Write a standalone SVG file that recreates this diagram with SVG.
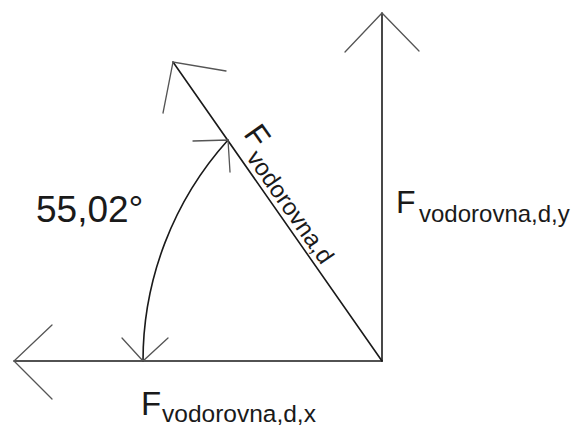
<svg xmlns="http://www.w3.org/2000/svg" width="580" height="428" viewBox="0 0 580 428">
<style>
.main{stroke:#1a1a1a;stroke-width:1.6;fill:none;stroke-linecap:round}
.head{stroke:#555;stroke-width:1.3;fill:none;stroke-linecap:round}
text{font-family:"Liberation Sans",Arial,sans-serif;fill:#1a1a1a}
.big{font-size:32px}
.sub{font-size:24px}
</style>
<rect width="580" height="428" fill="#fff"/>
<g id="connectors">
<g id="vec-y">
<line class="main" x1="382" y1="361" x2="382" y2="13"/>
<polyline class="head" points="345,52 382,13 419,51"/>
</g>
<g id="vec-x">
<line class="main" x1="382" y1="361" x2="14" y2="361"/>
<polyline class="head" points="52,325 14,361 52,399"/>
</g>
<g id="vec-d">
<line class="main" x1="382" y1="361" x2="173" y2="62"/>
<polyline class="head" points="226,71 173,62 163,113"/>
</g>
<g id="angle-arc">
<path class="main" d="M143,361 A330,330 0 0 1 228,140"/>
<polyline class="head" points="122,338 143,361 168,338"/>
<polyline class="head" points="193,141 228,140 230,172"/>
</g>
</g>
<g id="label-angle">
<text x="36" y="222" style="font-size:37px">55,02°</text>
</g>
<g id="label-y">
<text x="396" y="213" class="big">F</text>
<text x="419" y="222" class="sub">vodorovna,d,y</text>
</g>
<g id="label-x">
<text x="141" y="415" style="font-size:33px">F</text>
<text x="162" y="422" class="sub" style="font-size:24.5px">vodorovna,d,x</text>
</g>
<g id="label-d" transform="translate(173,62) rotate(55.04)">
<text x="99" y="-16" class="big">F</text>
<text x="120" y="-5" class="sub">vodorovna,d</text>
</g>
</svg>
